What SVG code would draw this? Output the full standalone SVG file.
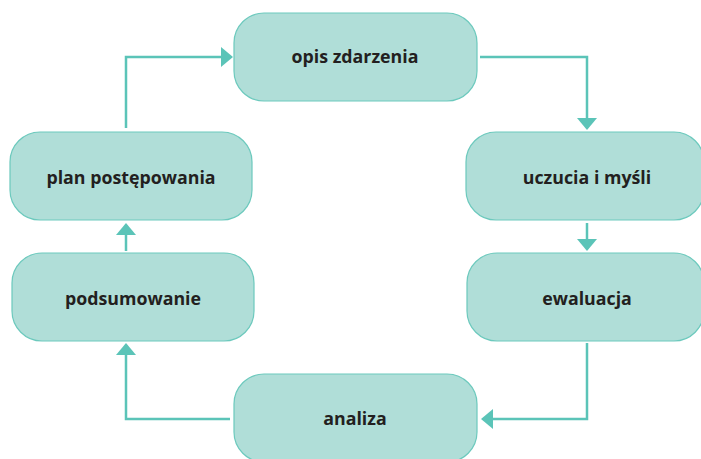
<svg xmlns="http://www.w3.org/2000/svg" width="701" height="459" viewBox="0 0 701 459">
<defs>
<style>
.box{fill:#b0ded8;stroke:#6cc9bd;stroke-width:1.2}
.lbl{font-family:"Open Sans","Liberation Sans",sans-serif;font-weight:700;font-size:17.8px;fill:#231f20;text-anchor:middle}
.con{fill:none;stroke:#5bc4b8;stroke-width:2.5}
.head{fill:#5bc4b8}
</style>
</defs>
<rect width="701" height="459" fill="#ffffff"/>
<g id="connectors">
<polyline class="con" points="126,128 126,57 222,57"/>
<polygon class="head" points="233,57 221,47 221,67"/>
<polyline class="con" points="480,57 587,57 587,119"/>
<polygon class="head" points="587,130 577,118 597,118"/>
<polyline class="con" points="587,223 587,240"/>
<polygon class="head" points="587,251 577,239 597,239"/>
<polyline class="con" points="587,343 587,419 492,419"/>
<polygon class="head" points="481,419 493,409 493,429"/>
<polyline class="con" points="230,419 126,419 126,354"/>
<polygon class="head" points="126,343 116,355 136,355"/>
<polyline class="con" points="126,251 126,234"/>
<polygon class="head" points="126,223 116,235 136,235"/>
</g>
<g id="opis">
<rect class="box" x="234" y="13" width="243" height="88" rx="30"/>
<text class="lbl" x="355" y="63">opis zdarzenia</text>
</g>
<g id="uczucia">
<rect class="box" x="466" y="132" width="238" height="88" rx="30"/>
<text class="lbl" x="587" y="184">uczucia i myśli</text>
</g>
<g id="ewaluacja">
<rect class="box" x="467" y="253" width="237" height="88" rx="30"/>
<text class="lbl" x="587" y="305">ewaluacja</text>
</g>
<g id="analiza">
<rect class="box" x="234" y="374" width="243" height="88" rx="30"/>
<text class="lbl" x="355" y="425">analiza</text>
</g>
<g id="podsumowanie">
<rect class="box" x="12" y="253" width="242" height="88" rx="30"/>
<text class="lbl" x="133" y="305">podsumowanie</text>
</g>
<g id="plan">
<rect class="box" x="10" y="132" width="242" height="88" rx="30"/>
<text class="lbl" x="131" y="184">plan postępowania</text>
</g>
</svg>
